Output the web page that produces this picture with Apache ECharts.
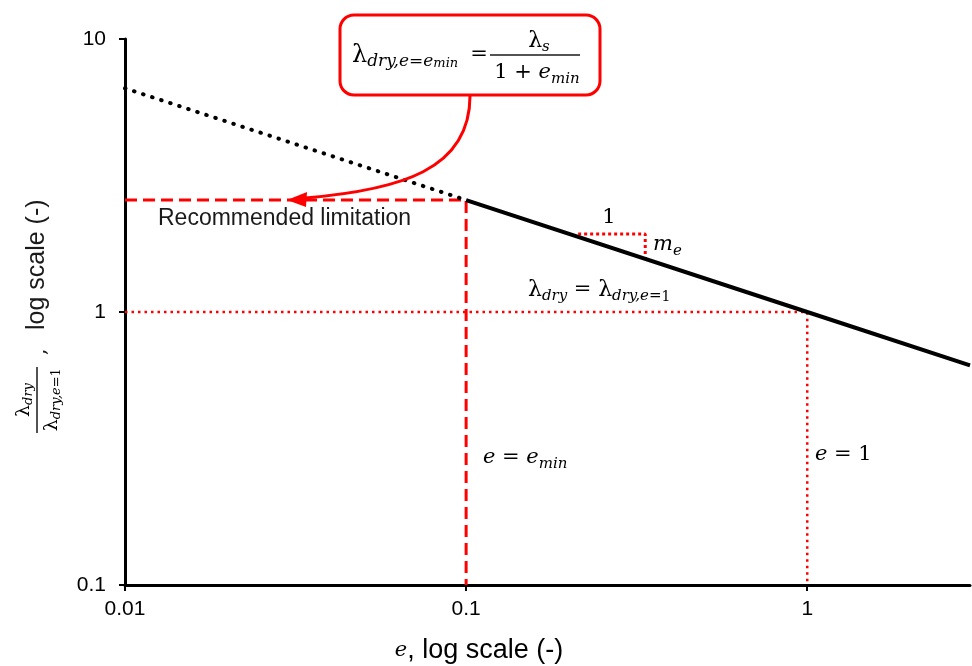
<!DOCTYPE html>
<html>
<head>
<meta charset="utf-8">
<script src="https://cdn.jsdelivr.net/npm/echarts@6/dist/echarts.min.js"></script>
<style>html,body{margin:0;padding:0;background:#fff}#c{width:972px;height:666px}</style>
</head>
<body>
<div id="c"></div>
<script>
// ---- data ----
const eTicks = [0.01, 0.1, 1];
const lamTicks = [0.1, 1, 10];
const solidE = [0.1, 1, 3];
const solidLam = [2.57, 1, 0.637];
const dottedE = [0.01, 0.1];
const dottedLam = [6.6, 2.57];
const limitE = [0.01, 0.1, 0.1];
const limitLam = [2.57, 2.57, 0.1];
const unityE = [0.01, 1, 1];
const unityLam = [1, 1, 0.1];
const slopeE = [0.213, 0.335, 0.335];
const slopeLam = [1.93, 1.93, 1.57];

const pairs = (xs, ys) => xs.map((x, i) => [x, ys[i]]);
const RED = '#ff0000';
const SERIF = '"DejaVu Serif", "Liberation Serif", serif';
const SANS = '"Liberation Sans", Arial, sans-serif';
const TXT = '#1a1a1a';

const rich = {
  L: {fontFamily: SERIF, fontSize: 22, lineHeight: 28, color: TXT},
  LB: {fontFamily: SERIF, fontSize: 24, lineHeight: 28, color: TXT},
  i: {fontFamily: SERIF, fontStyle: 'italic', fontSize: 21, lineHeight: 28, color: TXT},
  n: {fontFamily: SERIF, fontSize: 21, lineHeight: 28, color: TXT},
  s: {fontFamily: SERIF, fontStyle: 'italic', fontSize: 15, lineHeight: 16, verticalAlign: 'bottom', color: TXT},
  sb: {fontFamily: SERIF, fontStyle: 'italic', fontSize: 17, lineHeight: 17, verticalAlign: 'bottom', color: TXT},
  sn: {fontFamily: SERIF, fontSize: 14, lineHeight: 16, verticalAlign: 'bottom', color: TXT},
  ss: {fontFamily: SERIF, fontStyle: 'italic', fontSize: 13, lineHeight: 9, verticalAlign: 'bottom', color: TXT},
  sans: {fontFamily: SANS, fontSize: 27, lineHeight: 30, color: TXT}
};
const richSmall = {
  L: {fontFamily: SERIF, fontSize: 19, lineHeight: 22, color: TXT},
  s: {fontFamily: SERIF, fontStyle: 'italic', fontSize: 13, lineHeight: 12, verticalAlign: 'bottom', color: TXT},
  sn: {fontFamily: SERIF, fontSize: 12, lineHeight: 12, verticalAlign: 'bottom', color: TXT}
};

function label(x, y, text, align, r) {
  return {type: 'text', x: x, y: y, z: 100,
    style: {text: text, rich: r || rich, align: align || 'left', verticalAlign: 'middle'}};
}

const chart = echarts.init(document.getElementById('c'), null, {renderer: 'canvas'});

const option = {
  animation: false,
  backgroundColor: '#fff',
  grid: {left: 125, right: 2, top: 39, bottom: 81, containLabel: false},
  xAxis: {
    type: 'log', logBase: 10, min: 0.01, max: 3,
    axisLine: {lineStyle: {color: '#000', width: 3}},
    axisTick: {show: true, length: 6, lineStyle: {color: '#000', width: 2}, customValues: eTicks},
    axisLabel: {color: '#000', fontFamily: SANS, fontSize: 21, margin: 14, customValues: eTicks,
      formatter: v => String(v)},
    splitLine: {show: false},
    minorTick: {show: false}
  },
  yAxis: {
    type: 'log', logBase: 10, min: 0.1, max: 10,
    axisLine: {lineStyle: {color: '#000', width: 3}},
    axisTick: {show: true, length: 6, lineStyle: {color: '#000', width: 2}, customValues: lamTicks},
    axisLabel: {color: '#000', fontFamily: SANS, fontSize: 21, margin: 19, customValues: lamTicks,
      formatter: v => String(v)},
    splitLine: {show: false}
  },
  series: [
    {type: 'line', data: pairs(limitE, limitLam), symbol: 'none', silent: true,
      lineStyle: {color: RED, width: 3, type: [12, 6]}},
    {type: 'line', data: pairs(unityE, unityLam), symbol: 'none', silent: true,
      lineStyle: {color: RED, width: 2.5, type: [2.5, 4]}},
    {type: 'line', data: pairs(slopeE, slopeLam), symbol: 'none', silent: true,
      lineStyle: {color: RED, width: 3, type: [3, 3]}},
    {type: 'line', data: pairs(dottedE, dottedLam), symbol: 'none', silent: true,
      lineStyle: {color: '#000', width: 4, type: [0.5, 9], cap: 'round'}},
    {type: 'line', data: pairs(solidE, solidLam), symbol: 'none', silent: true,
      lineStyle: {color: '#000', width: 4}}
  ],
  graphic: [
    // formula box
    {type: 'rect', z: 90, shape: {x: 340, y: 15, width: 260, height: 80, r: 14},
      style: {fill: '#fff', stroke: RED, lineWidth: 3}},
    label(352, 56, '{LB|λ}{sb|dry,e=e}{ss|min}'),
    label(479, 55, '{n|=}', 'center'),
    label(539, 41, '{L|λ}{s|s}', 'center'),
    {type: 'line', z: 100, shape: {x1: 490, y1: 55, x2: 580, y2: 55}, style: {stroke: TXT, lineWidth: 1.5}},
    label(537, 73, '{n|1 + }{i|e}{s|min}', 'center'),
    // arrow
    {type: 'bezierCurve', z: 95, shape: {x1: 470, y1: 96, cpx1: 470, cpy1: 170, cpx2: 400, cpy2: 190, x2: 305, y2: 198},
      style: {stroke: RED, lineWidth: 3, fill: null}},
    {type: 'polygon', z: 95, shape: {points: [[287, 200], [307, 192], [306, 207]]}, style: {fill: RED}},
    // annotations
    {type: 'text', x: 158, y: 219, z: 100,
      style: {text: 'Recommended limitation', fontFamily: SANS, fontSize: 23, fill: TXT, verticalAlign: 'middle'}},
    label(609, 218, '{n|1}', 'center'),
    label(653, 245, '{i|m}{s|e}'),
    label(528, 290, '{L|λ}{s|dry}{n| = }{L|λ}{s|dry,e=}{sn|1}'),
    label(483, 458, '{i|e}{n| = }{i|e}{s|min}'),
    label(815, 455, '{i|e}{n| = 1}'),
    // x axis title
    label(479, 651, '{i|e}{sans|, log scale (-)}', 'center'),
    // y axis title (rotated)
    {type: 'group', x: 37, y: 400, rotation: Math.PI / 2, children: [
      {type: 'line', shape: {x1: -33, y1: 0, x2: 33, y2: 0}, style: {stroke: TXT, lineWidth: 1.5}},
      {type: 'text', x: 0, y: -13, style: {text: '{L|λ}{s|dry}', rich: richSmall, align: 'center', verticalAlign: 'middle'}},
      {type: 'text', x: 0, y: 15, style: {text: '{L|λ}{s|dry,e=}{sn|1}', rich: richSmall, align: 'center', verticalAlign: 'middle'}},
      {type: 'text', x: 45, y: 3, style: {text: ',', fontFamily: SERIF, fontSize: 20, fill: TXT, verticalAlign: 'middle'}},
      {type: 'text', x: 70, y: 0, style: {text: 'log scale (-)', fontFamily: SANS, fontSize: 25, fill: TXT, verticalAlign: 'middle'}}
    ]}
  ]
};
chart.setOption(option);
</script>
</body>
</html>
